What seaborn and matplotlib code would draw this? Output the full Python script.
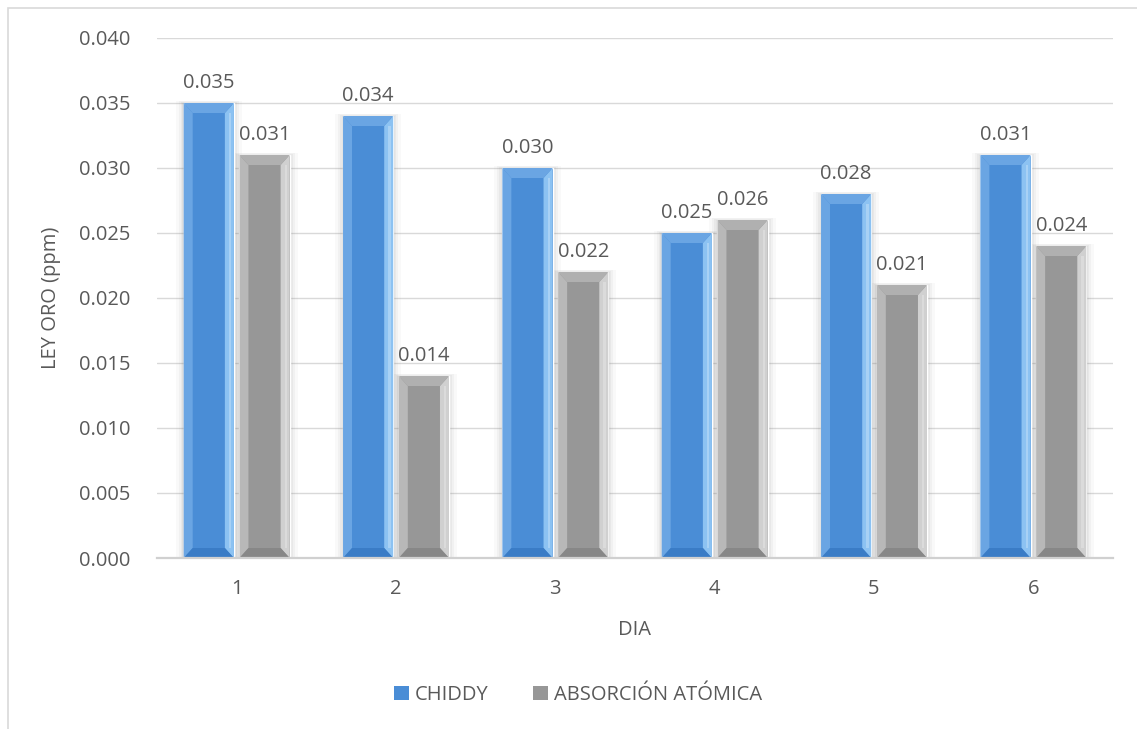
import matplotlib
matplotlib.use("Agg")
import matplotlib.pyplot as plt
import seaborn as sns
import pandas as pd
from matplotlib.patches import Rectangle, Polygon

# Datos
dias = ["1", "2", "3", "4", "5", "6"]
chiddy = [0.035, 0.034, 0.030, 0.025, 0.028, 0.031]
absorcion = [0.031, 0.014, 0.022, 0.026, 0.021, 0.024]
series = ["CHIDDY", "ABSORCIÓN ATÓMICA"]
yticks = [0.000, 0.005, 0.010, 0.015, 0.020, 0.025, 0.030, 0.035, 0.040]

df = pd.DataFrame({
    "DIA": dias * 2,
    "valor": chiddy + absorcion,
    "serie": [series[0]] * len(dias) + [series[1]] * len(dias),
})

sns.set_theme(style="white")
plt.rcParams["font.family"] = ["Open Sans", "DejaVu Sans"]
txt = "#595959"
fs = 14.5

W, H = 1137, 729
fig = plt.figure(figsize=(W / 100, H / 100), dpi=100)
ax = fig.add_axes([157 / W, 1 - 558 / H, (1113 - 157) / W, (558 - 38) / H])

face = {series[0]: "#4a8dd6", series[1]: "#979797"}
top_c = {series[0]: "#6aa5e3", series[1]: "#b0b0b0"}
left_c = {series[0]: "#6aa5e3", series[1]: "#b8b8b8"}
side_c = {series[0]: "#8cc2f2", series[1]: "#d0d0d0"}
bot_c = {series[0]: "#3a7cc6", series[1]: "#878787"}

sns.barplot(data=df, x="DIA", y="valor", hue="serie", order=dias,
            hue_order=series, palette=face, width=0.7, gap=0.1,
            saturation=1, legend=False, ax=ax, zorder=3)

ax.set_ylim(0, 0.040)
ax.set_xlim(-0.5, len(dias) - 0.5)
ax.set_yticks(yticks)
ax.set_yticklabels([f"{v:.3f}" for v in yticks])

# Efecto biselado y sombra de cada barra
px_y = 0.040 / (558 - 38)
px_x = len(dias) / (1113 - 157)
for cont, name in zip(ax.containers, series):
    for p in cont:
        x0, w, h = p.get_x(), p.get_width(), p.get_height()
        bw = 9 * px_x
        bh = 10 * px_y
        for k, a in ((8, 0.04), (5, 0.06), (3, 0.08), (1.5, 0.10)):
            ax.add_patch(Rectangle((x0 - k * px_x, 0), w + 2 * k * px_x, h + k * px_y * 0.3,
                                   facecolor="#7f7f7f", edgecolor="none", alpha=a, zorder=2))
        # franjas laterales
        ax.add_patch(Polygon([(x0, 0), (x0 + bw, bh), (x0 + bw, h - bh), (x0, h)],
                             closed=True, facecolor=left_c[name], edgecolor="none", zorder=4))
        ax.add_patch(Polygon([(x0 + w, 0), (x0 + w - bw, bh), (x0 + w - bw, h - bh), (x0 + w, h)],
                             closed=True, facecolor=side_c[name], edgecolor="none", zorder=4))
        # bisel superior e inferior
        ax.add_patch(Polygon([(x0, h), (x0 + w, h), (x0 + w - bw, h - bh), (x0 + bw, h - bh)],
                             closed=True, facecolor=top_c[name], edgecolor="none", zorder=4))
        ax.add_patch(Polygon([(x0, 0), (x0 + w, 0), (x0 + w - bw, bh), (x0 + bw, bh)],
                             closed=True, facecolor=bot_c[name], edgecolor="none", zorder=4))
        # brillo fino junto al borde derecho
        ax.add_patch(Rectangle((x0 + w - bw * 0.55, bh), bw * 0.25, h - 2 * bh,
                               facecolor="white", edgecolor="none", alpha=0.25, zorder=4.5))
    ax.bar_label(cont, fmt="%.3f", padding=7, fontsize=fs, color=txt, zorder=5)

# Ejes y cuadrícula
for s in ("top", "right", "left"):
    ax.spines[s].set_visible(False)
ax.spines["bottom"].set_color("#d0d0d0")
ax.spines["bottom"].set_linewidth(1.6)
ax.spines["bottom"].set_zorder(6)
ax.yaxis.grid(True, color="#d9d9d9", linewidth=1.0, zorder=0)
ax.set_axisbelow(True)
ax.tick_params(axis="both", length=0, labelsize=fs, labelcolor=txt)
ax.tick_params(axis="y", pad=19)
ax.tick_params(axis="x", pad=15)

ax.set_xlabel("DIA", fontsize=fs, color=txt, labelpad=15)
ax.set_ylabel("LEY ORO (ppm)", fontsize=fs, color=txt, labelpad=13)

# Leyenda
handles = [Rectangle((0, 0), 1, 1, facecolor=face[s], edgecolor="none") for s in series]
fig.legend(handles, series, loc="center", bbox_to_anchor=(578 / W, 1 - 695 / H),
           ncol=2, frameon=False, fontsize=fs, labelcolor=txt,
           handlelength=0.75, handleheight=0.75, handletextpad=0.3, columnspacing=2.2)

# Marco exterior
fig.patches.append(Rectangle((8 / W, -0.05), 1.2, 1 - 8 / H + 0.05, transform=fig.transFigure,
                             fill=False, edgecolor="#d9d9d9", linewidth=1.2))

fig.savefig("out.png", dpi=100)
